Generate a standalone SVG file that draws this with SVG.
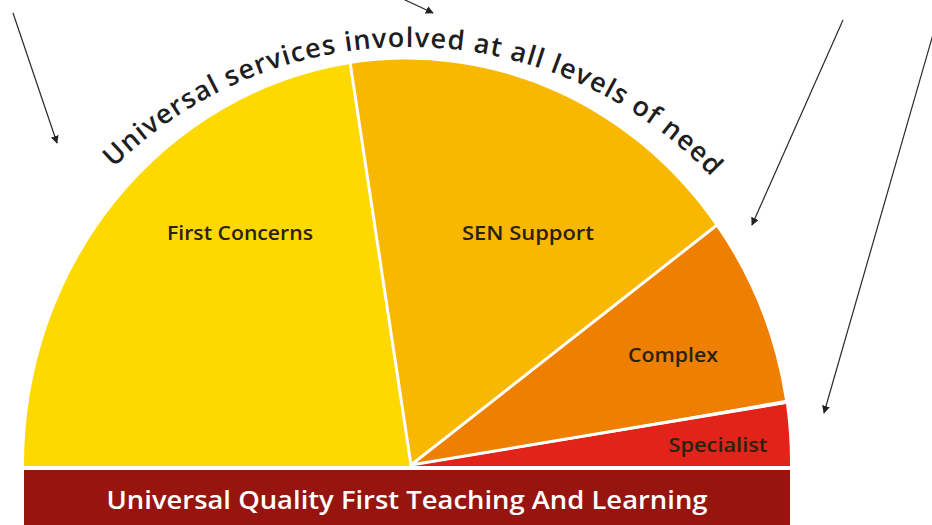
<svg xmlns="http://www.w3.org/2000/svg" width="932" height="525" viewBox="0 0 932 525">
  <style>
    .lbl { font-family: "Open Sans", "Liberation Sans", sans-serif; font-weight: 600; fill: #2a2210; text-anchor: middle; }
    .sep { stroke: #ffffff; stroke-width: 3; stroke-linecap: round; fill: none; }
    .arrow { stroke: #2a2a2a; stroke-width: 1.2; fill: none; marker-end: url(#ah); }
  </style>
  <defs>
    <marker id="ah" viewBox="0 0 10 10" refX="9" refY="5" markerWidth="8" markerHeight="8" markerUnits="userSpaceOnUse" orient="auto">
      <path d="M0,0 L10,5 L0,10 z" fill="#222222"/>
    </marker>
    <path id="arcText" d="M 113.7 167.7 A 419 419 0 0 1 711.2 176.7"/>
  </defs>
  <rect width="932" height="525" fill="#ffffff"/>

  <g id="first-concerns">
    <path d="M 411 466 L 24 466 A 383 405 0 0 1 350 64 Z" fill="#FDD900"/>
    <text class="lbl" x="240" y="240" font-size="20" textLength="146" lengthAdjust="spacingAndGlyphs">First Concerns</text>
  </g>
  <g id="sen-support">
    <path d="M 411 466 L 350 64 A 383 405 0 0 1 716 226 Z" fill="#F9B800"/>
    <text class="lbl" x="528" y="240" font-size="20" textLength="132" lengthAdjust="spacingAndGlyphs">SEN Support</text>
  </g>
  <g id="complex">
    <path d="M 411 466 L 716 226 A 383 405 0 0 1 785 400 Z" fill="#EE7F00"/>
    <text class="lbl" x="673" y="362" font-size="20" textLength="90" lengthAdjust="spacingAndGlyphs">Complex</text>
  </g>
  <g id="specialist">
    <path d="M 411 466 L 786 404 A 383 405 0 0 1 790 466 Z" fill="#E2231A"/>
    <text class="lbl" x="718" y="452" font-size="19" textLength="99" lengthAdjust="spacingAndGlyphs">Specialist</text>
  </g>

  <g id="separators">
    <line class="sep" x1="411" y1="465" x2="350" y2="62"/>
    <line class="sep" x1="411" y1="465" x2="717" y2="225"/>
    <line class="sep" x1="411" y1="465" x2="787" y2="402"/>
  </g>

  <g id="universal-qft">
    <rect x="24" y="470" width="766" height="55" fill="#98150F"/>
    <text class="lbl" x="407" y="509" font-size="26" style="fill:#ffffff" textLength="601" lengthAdjust="spacingAndGlyphs">Universal Quality First Teaching And Learning</text>
  </g>

  <g id="universal-services">
    <text class="lbl" font-size="27" style="text-anchor:start; fill:#1e1e1e">
      <textPath href="#arcText" textLength="665" lengthAdjust="spacing">Universal services involved at all levels of need</textPath>
    </text>
  </g>

  <g id="connectors">
    <line class="arrow" x1="13" y1="13" x2="57" y2="143"/>
    <line class="arrow" x1="403" y1="-1" x2="433" y2="13"/>
    <line class="arrow" x1="843" y1="20" x2="752" y2="225"/>
    <line class="arrow" x1="934" y1="31" x2="824" y2="413"/>
  </g>
</svg>
